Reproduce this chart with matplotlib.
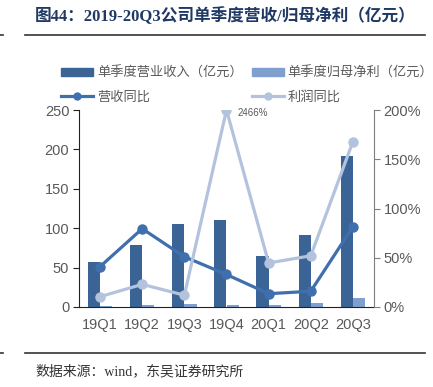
import numpy as np
from matplotlib import pyplot as plt
from matplotlib.lines import Line2D
from matplotlib.patches import Patch

quarters = ["19Q1", "19Q2", "19Q3", "19Q4", "20Q1", "20Q2", "20Q3"]
revenue = [57, 79, 105, 110, 65, 91, 192]          # 单季度营业收入（亿元）
net_profit = [1.5, 2.5, 4, 2, 2, 4.5, 12]          # 单季度归母净利（亿元）
revenue_yoy = [41, 79.5, 51, 33, 13.5, 16, 81.5]   # 营收同比 %
profit_yoy = [10.5, 23, 12, 2466, 44.7, 52, 168]   # 利润同比 %

c_rev = "#3A6496"
c_np = "#7F9FCF"
c_rline = "#3F6FAD"
c_pline = "#B4C3DD"
gray = "#595959"

cjk = ["Noto Sans CJK SC", "DejaVu Sans"]
serif = ["Liberation Serif", "Noto Sans CJK SC"]
plt.rcParams['font.family'] = cjk

fig = plt.figure(figsize=(4.33, 3.87), dpi=100)
ax = fig.add_axes([79/433, 1-307/387, (374-79)/433, (307-110)/387])
ax2 = ax.twinx()

x = np.arange(len(quarters))
w = 0.29
ax.bar(x - w/2, revenue, w, color=c_rev, zorder=2)
ax.bar(x + w/2, net_profit, w, color=c_np, zorder=2)

ymax2 = 200
ax2.plot(x, revenue_yoy, color=c_rline, lw=2.3, marker='o', ms=6.5, zorder=3)
ax2.plot(x, np.minimum(profit_yoy, ymax2), color=c_pline, lw=2.3, marker='o', ms=6.5, zorder=3)
ax2.text(3 + 0.27, ymax2 - 3, "%d%%" % profit_yoy[3], fontsize=7, color=gray,
         family=["Liberation Sans"], va='center', ha='left')

ax.set_xlim(-0.5, 6.5)
ax.set_ylim(0, 250)
ax.set_yticks(range(0, 251, 50))
ax2.set_ylim(0, ymax2)
ax2.set_yticks(range(0, 201, 50))
ax2.set_yticklabels(["%d%%" % v for v in range(0, 201, 50)])
ax.set_xticks(x)
ax.set_xticklabels(quarters)

for a in (ax, ax2):
    a.spines['top'].set_visible(False)
    for lab in a.get_yticklabels() + a.get_xticklabels():
        lab.set_family(["Liberation Sans"])
        lab.set_fontsize(10.5)
        lab.set_color(gray)
ax.spines['right'].set_visible(False)
ax2.spines['left'].set_visible(False)
ax2.spines['bottom'].set_visible(False)
ax.spines['left'].set_color("#222222")
ax.spines['bottom'].set_color("#222222")
ax2.spines['right'].set_color("#7f7f7f")
ax.tick_params(axis='x', length=0, pad=8)
ax.tick_params(axis='y', length=4, width=0.8, color="#222222", pad=3)
ax2.tick_params(axis='y', length=4, width=0.8, color="#7f7f7f", pad=3)

handles = [Patch(color=c_rev), Patch(color=c_np),
           Line2D([], [], color=c_rline, lw=2.3, marker='o', ms=5),
           Line2D([], [], color=c_pline, lw=2.3, marker='o', ms=5)]
labels = ["单季度营业收入（亿元）", "单季度归母净利（亿元）", "营收同比", "利润同比"]
order = [0, 2, 1, 3]
fig.legend([handles[i] for i in order], [labels[i] for i in order], ncol=2,
           loc='upper left', bbox_to_anchor=(56/433, 1-61/387), frameon=False,
           fontsize=9.5, labelcolor=gray, handlelength=2.4, handleheight=0.6,
           columnspacing=0.7, handletextpad=0.3, labelspacing=0.85, borderaxespad=0)

fig.text(35/433, 1-16/387, "图44：2019-20Q3公司单季度营收/归母净利（亿元）", family=serif,
         fontsize=12, fontweight='bold', color="#1F3864", va='center')
fig.add_artist(Line2D([25/433, 425/433], [1-35/387, 1-35/387], color="#333333", lw=1.2))
fig.add_artist(Line2D([0, 3/433], [1-35/387, 1-35/387], color="#333333", lw=1.2))
fig.add_artist(Line2D([25/433, 425/433], [1-353/387, 1-353/387], color="#333333", lw=1.2))
fig.add_artist(Line2D([0, 3/433], [1-353/387, 1-353/387], color="#333333", lw=1.2))
fig.text(35/433, 1-371/387, "数据来源：wind，东吴证券研究所", family=serif,
         fontsize=10, color="#333333", va='center')

fig.savefig("out.png", dpi=100)
